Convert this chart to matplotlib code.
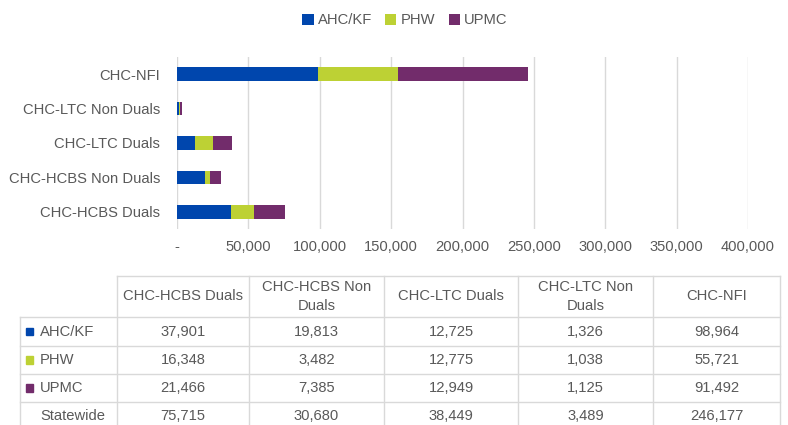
import numpy as np
import matplotlib
import matplotlib.pyplot as plt
from matplotlib.ticker import FuncFormatter

matplotlib.use('Agg')

# ===== DADOS =====
categorias = ["CHC-HCBS Duals", "CHC-HCBS Non Duals", "CHC-LTC Duals",
              "CHC-LTC Non Duals", "CHC-NFI"]
cabecalhos = ["CHC-HCBS Duals", "CHC-HCBS Non\nDuals", "CHC-LTC Duals",
              "CHC-LTC Non\nDuals", "CHC-NFI"]
series = ["AHC/KF", "PHW", "UPMC"]
ahc_kf = [37901, 19813, 12725, 1326, 98964]
phw = [16348, 3482, 12775, 1038, 55721]
upmc = [21466, 7385, 12949, 1125, 91492]
statewide = [75715, 30680, 38449, 3489, 246177]

cores = ["#0046AD", "#BDD134", "#722C6B"]
cinza = "#595959"
linha = "#D9D9D9"
fs = 10.6

plt.rcParams['font.family'] = ['Liberation Sans', 'DejaVu Sans']

fig = plt.figure(figsize=(7.88, 4.25), dpi=100)

# ===== GRAFICO =====
ax = fig.add_axes([177 / 788, 1 - 229 / 425, (748 - 177) / 788, (229 - 57) / 425])
y = np.arange(len(categorias))
esquerda = np.zeros(len(categorias))
for nome, valores, cor in zip(series, [ahc_kf, phw, upmc], cores):
    ax.barh(y, valores, left=esquerda, height=0.39, color=cor, label=nome, zorder=3)
    esquerda += np.array(valores)

ax.set_xlim(0, 400000)
ax.set_ylim(-0.5, len(categorias) - 0.5)
ax.set_xticks(np.arange(0, 400001, 50000))
ax.xaxis.set_major_formatter(FuncFormatter(lambda v, p: "-" if v == 0 else f"{int(v):,}"))
ax.set_yticks(y)
ax.set_yticklabels(categorias)
ax.tick_params(axis='x', length=0, pad=8, labelsize=fs, labelcolor=cinza)
ax.tick_params(axis='y', length=0, pad=12, labelsize=fs, labelcolor=cinza)
ax.grid(axis='x', color=linha, linewidth=1, zorder=0)
for s in ax.spines.values():
    s.set_visible(False)

fig.legend(loc='upper center', bbox_to_anchor=(0.514, 1.0), ncol=3, frameon=False,
           fontsize=fs, labelcolor=cinza, handlelength=0.75, handleheight=0.75,
           handletextpad=0.3, columnspacing=0.9)

# ===== TABELA =====
tab = fig.add_axes([0, 0, 1, 1], zorder=-1)
tab.set_xlim(0, 788)
tab.set_ylim(425, 0)
tab.axis('off')

col_x = [20, 117, 249, 384, 518, 653, 780]
lin_y = [276, 317, 346, 374, 402, 430]

# linhas horizontais
tab.plot([col_x[1], col_x[-1]], [lin_y[0], lin_y[0]], color=linha, lw=1)
for yy in lin_y[1:]:
    tab.plot([col_x[0], col_x[-1]], [yy, yy], color=linha, lw=1)
# linhas verticais
tab.plot([col_x[0], col_x[0]], [lin_y[1], lin_y[-1]], color=linha, lw=1)
for xx in col_x[1:]:
    tab.plot([xx, xx], [lin_y[0], lin_y[-1]], color=linha, lw=1)

# cabecalho
for j, cab in enumerate(cabecalhos):
    cx = (col_x[j + 1] + col_x[j + 2]) / 2
    tab.text(cx, (lin_y[0] + lin_y[1]) / 2, cab, ha='center', va='center',
             fontsize=fs, color=cinza, linespacing=1.45)

# linhas de dados
linhas = [("AHC/KF", ahc_kf, cores[0]), ("PHW", phw, cores[1]),
          ("UPMC", upmc, cores[2]), ("Statewide", statewide, None)]
for i, (rotulo, valores, cor) in enumerate(linhas):
    cy = (lin_y[i + 1] + lin_y[i + 2]) / 2
    if cor is not None:
        tab.add_patch(plt.Rectangle((26, cy - 4), 7.5, 7.5, color=cor))
    tab.text(40, cy, rotulo, ha='left', va='center', fontsize=fs, color=cinza)
    for j, v in enumerate(valores):
        cx = (col_x[j + 1] + col_x[j + 2]) / 2
        tab.text(cx, cy, f"{v:,}", ha='center', va='center', fontsize=fs, color=cinza)

plt.savefig("out.png", dpi=100)
plt.close()
